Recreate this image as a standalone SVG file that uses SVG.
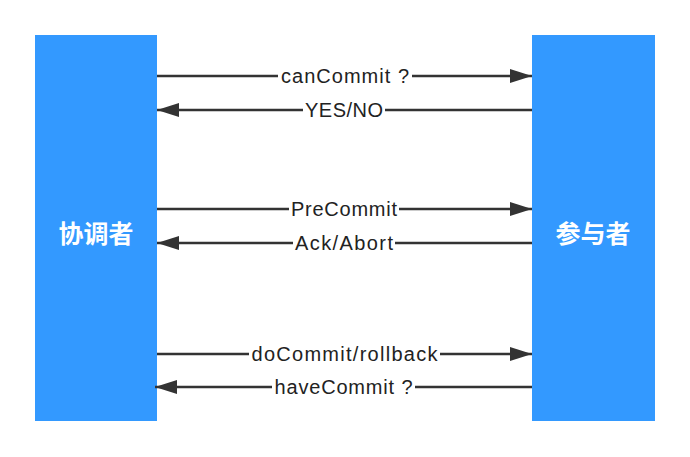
<svg xmlns="http://www.w3.org/2000/svg" width="690" height="457" viewBox="0 0 690 457">
<style>
.box{fill:#3399ff}
.bl{font-family:"Noto Sans CJK SC","Noto Sans",sans-serif;font-size:25px;font-weight:bold;fill:#fff;text-anchor:middle;dominant-baseline:central}
.ln{stroke:#333;stroke-width:2.5;fill:none}
.lb{font-family:"Liberation Sans",Arial,sans-serif;font-size:20px;fill:#222;text-anchor:middle;dominant-baseline:central}
.bg{fill:#fff}
</style>
<defs>
<marker id="ah" viewBox="0 0 22 14" refX="22" refY="7" markerWidth="22" markerHeight="14" markerUnits="userSpaceOnUse" orient="auto">
<path d="M0,0 L22,7 L0,14 Z" fill="#333"/>
</marker>
</defs>
<rect width="690" height="457" fill="#fff"/>
<g id="coordinator"><rect class="box" x="35" y="35" width="122" height="386"/><text class="bl" x="96" y="232">协调者</text></g>
<g id="participant"><rect class="box" x="532" y="35" width="123" height="386"/><text class="bl" x="593" y="232">参与者</text></g>
<g id="connectors">
<g><line class="ln" x1="157" y1="76" x2="532" y2="76" marker-end="url(#ah)"/><rect class="bg" x="278" y="65" width="134" height="22"/><text class="lb" x="345" y="76" textLength="128" lengthAdjust="spacing">canCommit ?</text></g>
<g><line class="ln" x1="532" y1="110" x2="157" y2="110" marker-end="url(#ah)"/><rect class="bg" x="303" y="99" width="82" height="22"/><text class="lb" x="344" y="110" textLength="78" lengthAdjust="spacing">YES/NO</text></g>
<g><line class="ln" x1="157" y1="209" x2="532" y2="209" marker-end="url(#ah)"/><rect class="bg" x="289" y="198" width="110" height="22"/><text class="lb" x="344" y="209" textLength="106" lengthAdjust="spacing">PreCommit</text></g>
<g><line class="ln" x1="532" y1="243" x2="157" y2="243" marker-end="url(#ah)"/><rect class="bg" x="293" y="232" width="102" height="22"/><text class="lb" x="344" y="243" textLength="98" lengthAdjust="spacing">Ack/Abort</text></g>
<g><line class="ln" x1="157" y1="354" x2="532" y2="354" marker-end="url(#ah)"/><rect class="bg" x="249" y="343" width="191" height="22"/><text class="lb" x="344.5" y="354" textLength="186" lengthAdjust="spacing">doCommit/rollback</text></g>
<g><line class="ln" x1="532" y1="387" x2="155" y2="387" marker-end="url(#ah)"/><rect class="bg" x="272" y="376" width="143" height="22"/><text class="lb" x="343.5" y="387" textLength="138" lengthAdjust="spacing">haveCommit ?</text></g>
</g>
</svg>
